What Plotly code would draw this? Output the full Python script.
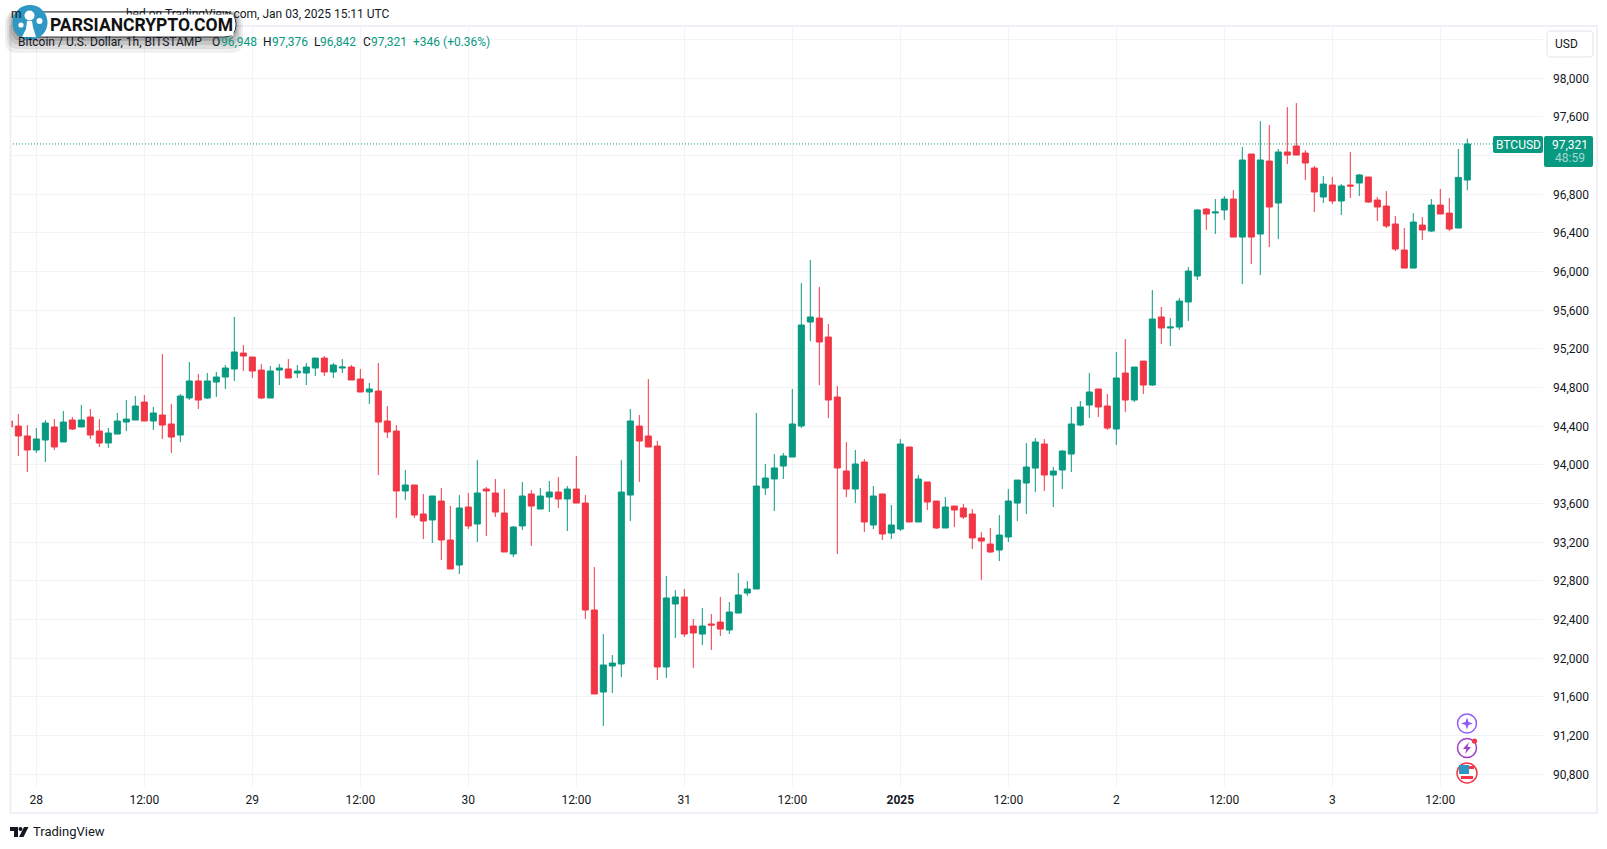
"""BTCUSD 1h candles, BITSTAMP, 28 Dec 2024 - 3 Jan 2025 (TradingView snapshot look)."""

import pandas as pd
import plotly.graph_objects as go

# ── hourly candles ───────────────────────────────────────────────────────
FIRST_CANDLE = "2024-12-27 21:00"

opens = [
    94455, 94403, 94300, 94155, 94258, 94393, 94238, 94465, 94393, 94496,
    94351, 94227, 94320, 94444, 94465, 94651, 94455, 94517, 94424, 94310,
    94693, 94869, 94693, 94858, 94910, 94993, 95158, 95117, 94982, 94693,
    94982, 94993, 94951, 94951, 95003, 95106, 94962, 95003, 95013, 94889,
    94755, 94765, 94455, 94351, 93731, 93793, 93493, 93431, 93627, 93224,
    92965, 93565, 93389, 93751, 93710, 93503, 93079, 93369, 93700, 93544,
    93668, 93720, 93648, 93751, 93606, 92500, 91651, 91920, 91941, 93689,
    94403, 94300, 94196, 91910, 92562, 92634, 92334, 92251, 92355, 92375,
    92293, 92468, 92675, 92717, 93762, 93855, 93989, 94082, 94403, 95479,
    95520, 95324, 94703, 93938, 93751, 94031, 93379, 93700, 93296, 93337,
    94186, 93410, 93824, 93627, 93348, 93575, 93555, 93493, 93245, 93182,
    93120, 93255, 93606, 93813, 93968, 94217, 93896, 93948, 94113, 94413,
    94620, 94786, 94610, 94372, 94951, 94672, 95075, 94827, 95531, 95417,
    95427, 95686, 95955, 96648, 96607, 96638, 96751, 96358, 97217, 96389,
    97144, 96710, 97238, 97300, 97227, 97072, 96772, 96896, 96731, 96896,
    96917, 96979, 96741, 96679, 96493, 96224, 96037, 96482, 96420, 96689,
    96606, 96451, 96948,
]
highs = [
    94455, 94527, 94413, 94382, 94465, 94475, 94558, 94496, 94620, 94579,
    94475, 94382, 94538, 94672, 94713, 94724, 94600, 95148, 94631, 94734,
    95065, 94941, 94951, 94962, 95034, 95531, 95241, 95117, 95044, 95024,
    95044, 95096, 95034, 95055, 95106, 95127, 95055, 95096, 95034, 94993,
    94848, 95055, 94610, 94413, 93948, 93793, 93700, 93679, 93762, 93575,
    93689, 93710, 94051, 93772, 93855, 93751, 93369, 93824, 93741, 93762,
    93834, 93875, 93782, 94093, 93689, 92944, 92251, 92034, 94051, 94579,
    94517, 94889, 94248, 92851, 92706, 92717, 92406, 92520, 92458, 92634,
    92582, 92882, 92799, 94538, 94010, 94113, 94124, 94786, 95882, 96120,
    95841, 95458, 94817, 94237, 94155, 94062, 93782, 93700, 93586, 94268,
    94186, 93896, 93824, 93627, 93669, 93575, 93596, 93544, 93306, 93348,
    93482, 93751, 93844, 94227, 94279, 94269, 93979, 94155, 94600, 94662,
    94951, 94786, 94734, 95169, 95303, 95013, 95075, 95810, 95634, 95520,
    95727, 96048, 96648, 96658, 96751, 96782, 96844, 97289, 97217, 97558,
    97517, 97269, 97703, 97744, 97258, 97093, 96989, 96979, 96906, 97238,
    97010, 96979, 96772, 96834, 96575, 96451, 96606, 96565, 96751, 96855,
    96761, 97269, 97376,
]
lows = [
    94393, 94093, 93927, 94124, 94031, 94155, 94238, 94362, 94393, 94269,
    94186, 94176, 94320, 94351, 94465, 94455, 94362, 94269, 94124, 94238,
    94672, 94579, 94682, 94703, 94786, 94869, 94972, 94900, 94682, 94693,
    94827, 94900, 94900, 94827, 94920, 94920, 94900, 94951, 94879, 94755,
    94631, 93896, 94279, 93451, 93637, 93451, 93234, 93193, 93017, 92924,
    92872, 93338, 93203, 93265, 93462, 93100, 93048, 93327, 93162, 93544,
    93513, 93555, 93317, 93606, 92406, 91631, 91300, 91641, 91806, 93420,
    93824, 94186, 91775, 91796, 92210, 92220, 91900, 92137, 92086, 92231,
    92251, 92468, 92644, 92717, 93689, 93524, 93855, 94082, 94382, 95282,
    94827, 94486, 93079, 93668, 93606, 93306, 93337, 93224, 93234, 93317,
    93410, 93410, 93534, 93338, 93348, 93358, 93441, 93131, 92810, 93089,
    93006, 93203, 93420, 93493, 93720, 93731, 93565, 93751, 93927, 94403,
    94486, 94496, 94362, 94207, 94548, 94651, 94734, 94817, 95251, 95231,
    95396, 95489, 95913, 96431, 96389, 96534, 96358, 95872, 96079, 95965,
    96255, 96337, 97113, 97206, 96948, 96617, 96710, 96700, 96586, 96762,
    96782, 96710, 96524, 96451, 96213, 96037, 96037, 96327, 96410, 96596,
    96420, 96451, 96842,
]
closes = [
    94393, 94300, 94155, 94269, 94434, 94186, 94444, 94372, 94465, 94310,
    94227, 94331, 94455, 94475, 94610, 94455, 94538, 94413, 94289, 94713,
    94869, 94672, 94869, 94910, 95003, 95169, 95127, 94972, 94693, 94972,
    95003, 94900, 94972, 95013, 95106, 94962, 95034, 95013, 94879, 94755,
    94786, 94444, 94341, 93731, 93793, 93482, 93420, 93679, 93224, 92924,
    93555, 93369, 93710, 93731, 93513, 93100, 93358, 93679, 93575, 93679,
    93720, 93648, 93751, 93606, 92500, 91631, 91931, 91951, 93720, 94455,
    94248, 94186, 91910, 92624, 92634, 92251, 92262, 92334, 92344, 92303,
    92479, 92655, 92717, 93782, 93865, 93969, 94093, 94424, 95448, 95531,
    95272, 94672, 93969, 93751, 94010, 93410, 93679, 93286, 93379, 94217,
    93410, 93855, 93617, 93348, 93565, 93534, 93462, 93245, 93213, 93100,
    93275, 93627, 93844, 93979, 94238, 93896, 93937, 94144, 94424, 94600,
    94755, 94600, 94382, 94900, 94672, 95013, 94827, 95510, 95417, 95427,
    95696, 96006, 96638, 96596, 96617, 96751, 96358, 97155, 96358, 97155,
    96669, 97238, 97206, 97206, 97124, 96824, 96906, 96731, 96886, 96886,
    97000, 96720, 96669, 96472, 96234, 96037, 96513, 96431, 96689, 96596,
    96441, 96975, 97321,
]

price_ticks = [
    90800, 91200, 91600, 92000, 92400, 92800, 93200, 93600, 94000,
    94400, 94800, 95200, 95600, 96000, 96400, 96800, 97200, 97600,
    98000, 98400,
]
# 97,200 and 98,400 sit behind the price box and the USD button, grid only
price_labels = [
    "90,800", "91,200", "91,600", "92,000", "92,400", "92,800", "93,200", "93,600", "94,000",
    "94,400", "94,800", "95,200", "95,600", "96,000", "96,400", "96,800", "", "97,600",
    "98,000", "",
]
time_ticks = [
    "2024-12-28 00:00", "2024-12-28 12:00", "2024-12-29 00:00", "2024-12-29 12:00",
    "2024-12-30 00:00", "2024-12-30 12:00", "2024-12-31 00:00", "2024-12-31 12:00",
    "2025-01-01 00:00", "2025-01-01 12:00", "2025-01-02 00:00", "2025-01-02 12:00",
    "2025-01-03 00:00", "2025-01-03 12:00",
]
time_labels = [
    "28", "12:00", "29", "12:00", "30", "12:00", "31", "12:00",
    "<b>2025</b>", "12:00", "2", "12:00", "3", "12:00",
]

GREEN = "#089981"
RED = "#F23645"
INK = "#131722"
GRID = "#F2F3F6"
FRAME = "#EFF0F6"
FONT = "Roboto"

# plot area on the 1607x849 page, in pixels
LEFT, RIGHT, TOP, BOTTOM = 10, 1543, 27, 786


def px(x):
    return (x - LEFT) / (RIGHT - LEFT)


def py(y):
    return 1 - (y - TOP) / (BOTTOM - TOP)


def rounded(x0, y0, x1, y1, r):
    """SVG path of a rounded box, pixels in, paper coordinates out."""
    pts = [
        ("M", x0 + r, y0), ("L", x1 - r, y0), ("Q", x1, y0, x1, y0 + r),
        ("L", x1, y1 - r), ("Q", x1, y1, x1 - r, y1), ("L", x0 + r, y1),
        ("Q", x0, y1, x0, y1 - r), ("L", x0, y0 + r), ("Q", x0, y0, x0 + r, y0),
    ]
    out = []
    for p in pts:
        coords = p[1:]
        pairs = [f"{px(coords[i]):.5f},{py(coords[i + 1]):.5f}" for i in range(0, len(coords), 2)]
        out.append(p[0] + " ".join(pairs))
    return " ".join(out) + " Z"


def polygon(points):
    return "M" + " L".join(f"{px(x):.5f},{py(y):.5f}" for x, y in points) + " Z"


def shape_path(path, fill, line=None, width=0):
    return dict(
        type="path", xref="paper", yref="paper", path=path, fillcolor=fill,
        line=dict(color=line or fill, width=width),
    )


def shape_circle(cx, cy, r, fill, line=None, width=0):
    return dict(
        type="circle", xref="paper", yref="paper",
        x0=px(cx - r), x1=px(cx + r), y0=py(cy + r), y1=py(cy - r),
        fillcolor=fill, line=dict(color=line or fill, width=width),
    )


def shape_box(x0, y0, x1, y1, fill):
    return dict(
        type="rect", xref="paper", yref="paper",
        x0=px(x0), x1=px(x1), y0=py(y1), y1=py(y0),
        fillcolor=fill, line=dict(width=0),
    )


def label(x, y, text, color=INK, size=12, anchor="left", **kw):
    return dict(
        xref="paper", yref="paper", x=px(x), y=py(y), text=text, showarrow=False,
        xanchor=anchor, yanchor="middle", borderpad=0,
        font=dict(family=kw.pop("family", FONT), size=size, color=color), **kw,
    )


times = pd.date_range(FIRST_CANDLE, periods=len(opens), freq="h")

fig = go.Figure(
    go.Candlestick(
        x=times, open=opens, high=highs, low=lows, close=closes,
        increasing=dict(line=dict(color=GREEN, width=1), fillcolor=GREEN),
        decreasing=dict(line=dict(color=RED, width=1), fillcolor=RED),
        whiskerwidth=0,
        showlegend=False,
    )
)

# ── chrome: frame, last price line, price boxes ──────────────────────────
shapes = [
    dict(
        type="line", xref="paper", x0=0, x1=px(1493), y0=closes[-1], y1=closes[-1],
        line=dict(color=GREEN, width=1, dash="1px,2px"),
    ),
    dict(
        type="rect", xref="paper", yref="paper",
        x0=px(10.5), x1=px(1597), y0=py(813), y1=py(26),
        line=dict(color=FRAME, width=2),
    ),
    shape_path(rounded(1493, 136, 1543, 153, 2), GREEN),
    shape_path(rounded(1544, 136, 1593, 167, 2), GREEN),
    shape_path(rounded(1547, 31, 1593, 57, 4), "white", "#E0E3EB", 1),
]

# soft shadow under the watermark pill
for grow, drop, alpha in [(10, 9, 0.06), (8, 7, 0.08), (6, 5, 0.10), (4, 3, 0.13), (2, 2, 0.16)]:
    shapes.append(shape_path(rounded(15 - grow, 12 + drop - grow, 236 + grow - 3, 37 + drop + grow - 3, 12), f"rgba(0,0,0,{alpha})"))
shapes.append(shape_path(rounded(15, 12, 236, 37, 12), "white", "#3A3A3A", 1))

# watermark logo
shapes += [
    shape_circle(30, 22.5, 17.5, "#2E97C4"),
    shape_circle(29.5, 15.5, 5, "white"),
    shape_circle(21, 25, 2.6, "white"),
    shape_circle(39.5, 21, 3, "white"),
    shape_path(polygon([(27, 21), (32, 21), (33, 27), (36, 37), (22, 37), (26, 29)]), "white"),
]

# round badges bottom right
shapes += [
    shape_circle(1467, 723.5, 9.5, "white", "#8E5CFF", 1.5),
    shape_path(polygon([(1467, 717.5), (1468.5, 722), (1473, 723.5), (1468.5, 725), (1467, 729.5), (1465.5, 725), (1461, 723.5), (1465.5, 722)]), "#8E5CFF"),
    shape_circle(1467, 748, 9.5, "white", "#9C3FC8", 1.5),
    shape_path(polygon([(1469, 742), (1463, 749), (1466.5, 749), (1465, 754), (1471, 747), (1467.5, 747)]), "#9C3FC8"),
    shape_circle(1474.5, 741, 2.6, RED),
    shape_circle(1467, 773, 10, "white", RED, 1.5),
    shape_box(1459, 766, 1474, 769, RED),
    shape_box(1461, 776, 1473, 779, RED),
    shape_box(1459, 765, 1469, 774, "#2E97C4"),
]

# TradingView mark bottom left
shapes += [
    shape_path(polygon([(10, 827), (18, 827), (18, 837), (14, 837), (14, 831), (10, 831)]), INK),
    shape_circle(20.5, 829, 2, INK),
    shape_path(polygon([(24, 827), (28.5, 827), (23.5, 837), (19, 837)]), INK),
]

# ── text; annotations paint in list order, the pill text hides the byline ─
annotations = [
    label(10, 14, "m", size=12),
    label(391, 14, "hed on TradingView.com, Jan 03, 2025 15:11 UTC", anchor="right"),
    label(49, 25, "<b>PARSIANCRYPTO.COM</b>", color="#111111", size=17.5, bgcolor="white", family="Roboto"),
    label(17, 42, "Bitcoin / U.S. Dollar, 1h, BITSTAMP"),
    label(210.5, 42, "O"),
    label(219.5, 42, f"{opens[-1]:,}", color=GREEN),
    label(262, 42, "H"),
    label(270.5, 42, f"{highs[-1]:,}", color=GREEN),
    label(313, 42, "L"),
    label(319, 42, f"{lows[-1]:,}", color=GREEN),
    label(362, 42, "C"),
    label(370, 42, f"{closes[-1]:,}", color=GREEN),
    label(412, 42, "+346 (+0.36%)", color=GREEN),
    label(1518, 144.5, "BTCUSD", color="white", anchor="center"),
    label(1570, 144.5, f"{closes[-1]:,}", color="white", anchor="center"),
    label(1570, 157.5, "48:59", color="rgba(255,255,255,0.65)", anchor="center"),
    label(1566, 44, "USD", anchor="center"),
    label(32, 831, "TradingView", size=13),
]

fig.update_layout(
    width=1607,
    height=849,
    autosize=False,
    margin=dict(l=LEFT, r=1607 - RIGHT, t=TOP, b=849 - BOTTOM),
    paper_bgcolor="white",
    plot_bgcolor="white",
    font=dict(family=FONT, size=12, color=INK),
    boxgap=0.33,
    boxgroupgap=0,
    shapes=shapes,
    annotations=annotations,
    xaxis=dict(
        range=["2024-12-27 21:04:30", "2025-01-03 23:24:36"],
        rangeslider=dict(visible=False),
        tickmode="array",
        tickvals=time_ticks,
        ticktext=time_labels,
        tickangle=0,
        ticks="",
        ticklabelstandoff=5,
        showgrid=True,
        gridcolor=GRID,
        gridwidth=1,
        zeroline=False,
        showline=False,
    ),
    yaxis=dict(
        side="right",
        range=[90679, 98531],
        tickmode="array",
        tickvals=price_ticks,
        ticktext=price_labels,
        ticks="",
        ticklabelstandoff=9,
        showgrid=True,
        gridcolor=GRID,
        gridwidth=1,
        zeroline=False,
        showline=False,
    ),
)

fig.write_html(
    "out.html",
    config={"displayModeBar": False},
    post_script="document.body.style.margin='0';",
)
